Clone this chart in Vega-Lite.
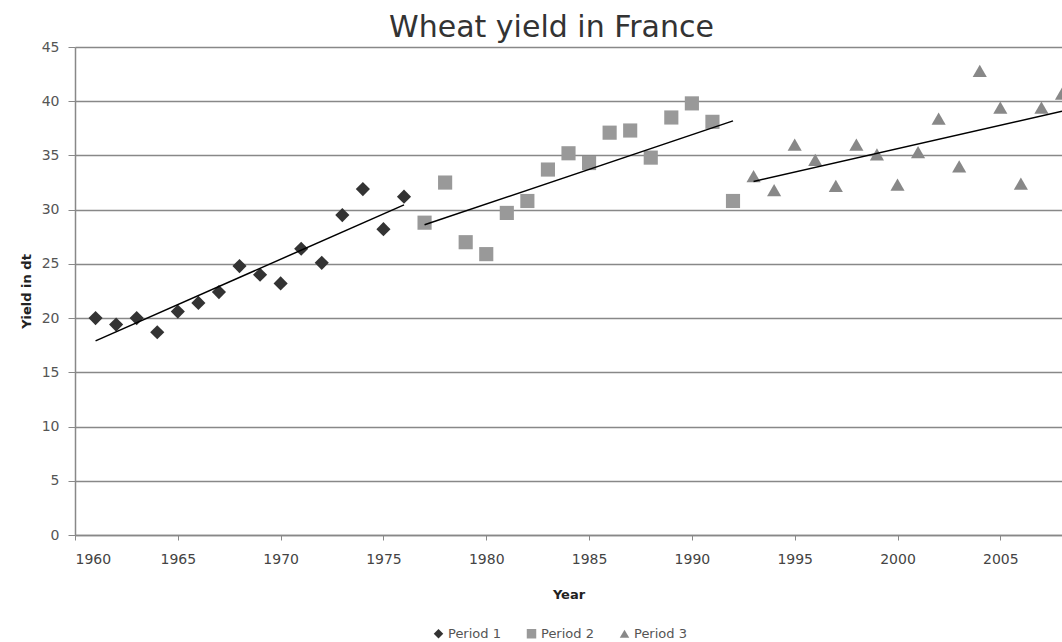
{
  "$schema": "https://vega.github.io/schema/vega-lite/v6.json",
  "width": 987,
  "height": 488,
  "autosize": {"type": "none"},
  "padding": {"left": 75, "top": 47, "right": 0, "bottom": 107},
  "background": "white",
  "title": {"text": "Wheat yield in France", "fontSize": 30, "font": "DejaVu Sans", "fontWeight": "normal", "color": "#333", "offset": -3, "dx": -17, "anchor": "middle"},
  "config": {"view": {"stroke": null}, "font": "DejaVu Sans"},
  "data": {"values": [
    {"year": 1961, "yield": 20.0, "period": "Period 1"},
    {"year": 1962, "yield": 19.4, "period": "Period 1"},
    {"year": 1963, "yield": 20.0, "period": "Period 1"},
    {"year": 1964, "yield": 18.7, "period": "Period 1"},
    {"year": 1965, "yield": 20.6, "period": "Period 1"},
    {"year": 1966, "yield": 21.4, "period": "Period 1"},
    {"year": 1967, "yield": 22.4, "period": "Period 1"},
    {"year": 1968, "yield": 24.8, "period": "Period 1"},
    {"year": 1969, "yield": 24.0, "period": "Period 1"},
    {"year": 1970, "yield": 23.2, "period": "Period 1"},
    {"year": 1971, "yield": 26.4, "period": "Period 1"},
    {"year": 1972, "yield": 25.1, "period": "Period 1"},
    {"year": 1973, "yield": 29.5, "period": "Period 1"},
    {"year": 1974, "yield": 31.9, "period": "Period 1"},
    {"year": 1975, "yield": 28.2, "period": "Period 1"},
    {"year": 1976, "yield": 31.2, "period": "Period 1"},
    {"year": 1977, "yield": 28.8, "period": "Period 2"},
    {"year": 1978, "yield": 32.5, "period": "Period 2"},
    {"year": 1979, "yield": 27.0, "period": "Period 2"},
    {"year": 1980, "yield": 25.9, "period": "Period 2"},
    {"year": 1981, "yield": 29.7, "period": "Period 2"},
    {"year": 1982, "yield": 30.8, "period": "Period 2"},
    {"year": 1983, "yield": 33.7, "period": "Period 2"},
    {"year": 1984, "yield": 35.2, "period": "Period 2"},
    {"year": 1985, "yield": 34.3, "period": "Period 2"},
    {"year": 1986, "yield": 37.1, "period": "Period 2"},
    {"year": 1987, "yield": 37.3, "period": "Period 2"},
    {"year": 1988, "yield": 34.8, "period": "Period 2"},
    {"year": 1989, "yield": 38.5, "period": "Period 2"},
    {"year": 1990, "yield": 39.8, "period": "Period 2"},
    {"year": 1991, "yield": 38.1, "period": "Period 2"},
    {"year": 1992, "yield": 30.8, "period": "Period 2"},
    {"year": 1993, "yield": 33.1, "period": "Period 3"},
    {"year": 1994, "yield": 31.8, "period": "Period 3"},
    {"year": 1995, "yield": 36.0, "period": "Period 3"},
    {"year": 1996, "yield": 34.6, "period": "Period 3"},
    {"year": 1997, "yield": 32.2, "period": "Period 3"},
    {"year": 1998, "yield": 36.0, "period": "Period 3"},
    {"year": 1999, "yield": 35.1, "period": "Period 3"},
    {"year": 2000, "yield": 32.3, "period": "Period 3"},
    {"year": 2001, "yield": 35.3, "period": "Period 3"},
    {"year": 2002, "yield": 38.4, "period": "Period 3"},
    {"year": 2003, "yield": 34.0, "period": "Period 3"},
    {"year": 2004, "yield": 42.8, "period": "Period 3"},
    {"year": 2005, "yield": 39.4, "period": "Period 3"},
    {"year": 2006, "yield": 32.4, "period": "Period 3"},
    {"year": 2007, "yield": 39.4, "period": "Period 3"},
    {"year": 2008, "yield": 40.7, "period": "Period 3"}
  ]},
  "encoding": {
    "x": {"field": "year", "type": "quantitative",
      "scale": {"domain": [1960, 2008], "nice": false, "zero": false},
      "axis": {"title": "Year", "values": [1960, 1965, 1970, 1975, 1980, 1985, 1990, 1995, 2000, 2005], "format": "d", "grid": false, "domainColor": "#888", "domainWidth": 1.5, "tickColor": "#888", "tickSize": 5, "labelFontSize": 14, "labelColor": "#444", "labelPadding": 12, "titleFontSize": 13, "titleFontWeight": "bold", "titleColor": "#222", "titlePadding": 22}},
    "y": {"field": "yield", "type": "quantitative",
      "scale": {"domain": [0, 45], "nice": false},
      "axis": {"title": "Yield in dt", "values": [0, 5, 10, 15, 20, 25, 30, 35, 40, 45], "labelOverlap": false, "gridColor": "#888", "gridWidth": 1.5, "domainColor": "#888", "domainWidth": 1.5, "tickColor": "#888", "tickSize": 7, "labelFontSize": 14, "labelColor": "#555", "labelPadding": 9, "titleFontSize": 13, "titleFontWeight": "bold", "titleColor": "#222", "titlePadding": 8}}
  },
  "layer": [
    {
      "mark": {"type": "point", "filled": true, "opacity": 1, "size": 200},
      "encoding": {
        "color": {"field": "period", "type": "nominal",
          "scale": {"domain": ["Period 1", "Period 2", "Period 3"], "range": ["#333333", "#999999", "#888888"]},
          "legend": {"title": null, "orient": "none", "legendX": 357, "legendY": 580, "direction": "horizontal", "labelFontSize": 13, "labelColor": "#555", "symbolSize": 90, "columnPadding": 24, "symbolOffset": 0, "labelOffset": 3}},
        "shape": {"field": "period", "type": "nominal",
          "scale": {"domain": ["Period 1", "Period 2", "Period 3"], "range": ["diamond", "square", "triangle-up"]},
          "legend": null}
      }
    },
    {
      "transform": [{"regression": "yield", "on": "year", "groupby": ["period"]}],
      "mark": {"type": "line", "color": "black", "strokeWidth": 1.5},
      "encoding": {
        "detail": {"field": "period", "type": "nominal"}
      }
    }
  ]
}
